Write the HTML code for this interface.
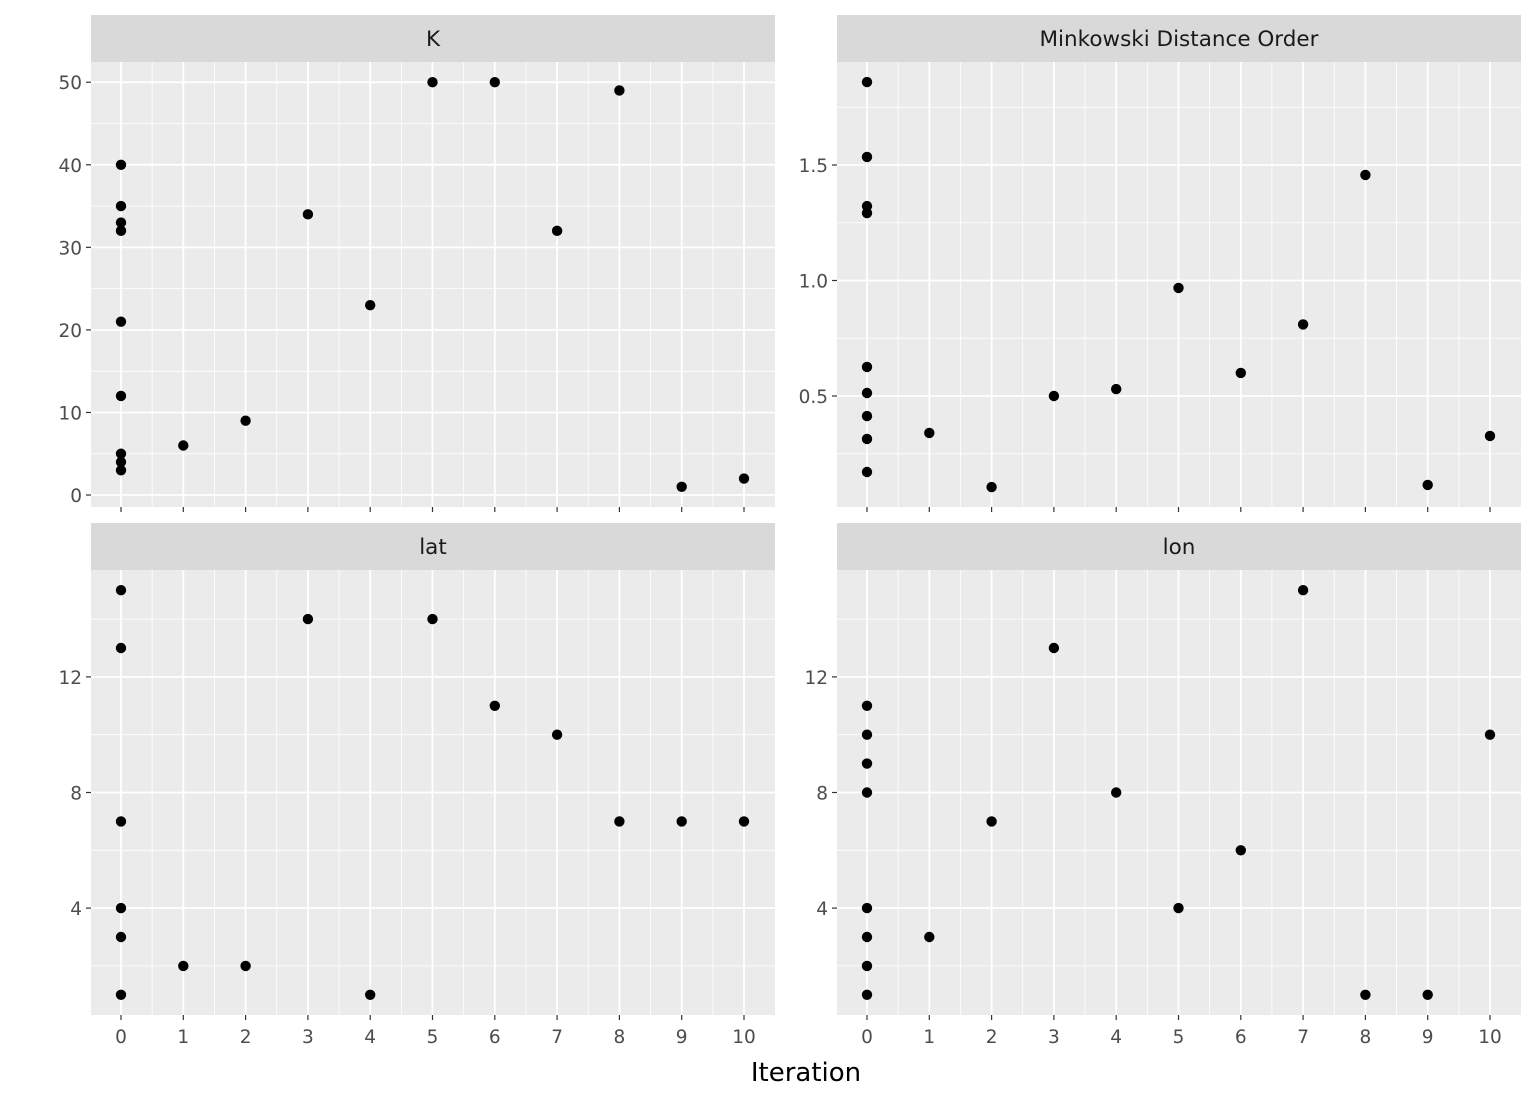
<!DOCTYPE html>
<html><head><meta charset="utf-8"><style>
body{margin:0;background:#fff}
svg text{font-family:"DejaVu Sans","Liberation Sans",sans-serif}
</style></head><body>
<svg id="chart" width="1536" height="1104" xmlns="http://www.w3.org/2000/svg">
<text x="806" y="1081" text-anchor="middle" font-size="26" fill="#000">Iteration</text>
</svg>
<script>
const kIter = [0,0,0,0,0,0,0,0,0,1,2,3,4,5,6,7,8,9,10];
const kVals = [40,35,33,32,21,12,5,4,3,6,9,34,23,50,50,32,49,1,2];
const mIter = [0,0,0,0,0,0,0,0,0,1,2,3,4,5,6,7,8,9,10];
const mVals = [1.859,1.535,1.322,1.292,0.626,0.513,0.413,0.314,0.171,0.34,0.106,0.5,0.53,0.968,0.6,0.81,1.457,0.115,0.327];
const latIter = [0,0,0,0,0,0,1,2,3,4,5,6,7,8,9,10];
const latVals = [15,13,7,4,3,1,2,2,14,1,14,11,10,7,7,7];
const lonIter = [0,0,0,0,0,0,0,0,1,2,3,4,5,6,7,8,9,10];
const lonVals = [11,10,9,8,4,3,2,1,3,7,13,8,4,6,15,1,1,10];
const xTicks = [0,1,2,3,4,5,6,7,8,9,10];
const kTicks = [0,10,20,30,40,50];
const mTicks = [0.5,1.0,1.5];
const mTickLabels = ["0.5","1.0","1.5"];
const latTicks = [4,8,12];
const lonTicks = [4,8,12];

const svg = document.getElementById('chart');
const NS = 'http://www.w3.org/2000/svg';
function mk(tag, attrs, parent){const e=document.createElementNS(NS,tag);for(const k in attrs)e.setAttribute(k,attrs[k]);(parent||svg).appendChild(e);return e;}

function panel(name, title, px, py, iters, vals, yTicks, yLabels, yMin, yMax, minorY, showX){
  const W=684, H=445, stripH=47;
  const g = mk('g',{});
  
  
  const strip = mk('rect',{x:px,y:py,width:W,height:stripH,fill:'#d9d9d9'},g);
  
  
  const st = mk('text',{x:px+W/2,y:py+31,'text-anchor':'middle','font-size':21.5,fill:'#1a1a1a'},g);
  st.textContent = title;
  
  
  const top = py+stripH;
  mk('rect',{x:px,y:top,width:W,height:H,fill:'#ebebeb'},g);
  const xs = v => px + 30 + v*62.3;
  const ys = v => top + H - (v-yMin)/(yMax-yMin)*H;
  for(let i=0;i<10;i++){const x=xs(i+0.5);mk('line',{x1:x,x2:x,y1:top,y2:top+H,stroke:'#fff','stroke-width':0.8},g);}
  minorY.forEach(v=>{const y=ys(v);mk('line',{x1:px,x2:px+W,y1:y,y2:y,stroke:'#fff','stroke-width':0.8},g);});
  xTicks.forEach(v=>{const x=xs(v);mk('line',{x1:x,x2:x,y1:top,y2:top+H,stroke:'#fff','stroke-width':1.8},g);
    mk('line',{x1:x,x2:x,y1:top+H,y2:top+H+5,stroke:'#333','stroke-width':1.2},g);
    if(showX){const t=mk('text',{x:x,y:top+H+28,'text-anchor':'middle','font-size':18.5,fill:'#4d4d4d'},g);t.textContent=v;
      
      }});
  yTicks.forEach((v,i)=>{const y=ys(v);mk('line',{x1:px,x2:px+W,y1:y,y2:y,stroke:'#fff','stroke-width':1.8},g);
    mk('line',{x1:px-5,x2:px,y1:y,y2:y,stroke:'#333','stroke-width':1.2},g);
    const t=mk('text',{x:px-9,y:y+7,'text-anchor':'end','font-size':18.5,fill:'#4d4d4d'},g);t.textContent=yLabels[i];
    
    });
  iters.forEach((it,i)=>{const c=mk('circle',{cx:xs(it),cy:ys(vals[i]),r:5.2,fill:'#000'},g);
    
    });
}
panel('k','K',91,15,kIter,kVals,kTicks,kTicks.map(String),-1.45,52.45,[5,15,25,35,45],false);
panel('minkowski','Minkowski Distance Order',837,15,mIter,mVals,mTicks,mTickLabels,0.5-(507-396)/231,0.5+(396-62)/231,[0.25,0.75,1.25,1.75],false);
panel('lat','lat',91,523,latIter,latVals,latTicks,latTicks.map(String),(1023.7-1015)/28.9,(1023.7-570)/28.9,[2,6,10,14],true);
panel('lon','lon',837,523,lonIter,lonVals,lonTicks,lonTicks.map(String),(1023.7-1015)/28.9,(1023.7-570)/28.9,[2,6,10,14],true);
</script>
</body></html>
